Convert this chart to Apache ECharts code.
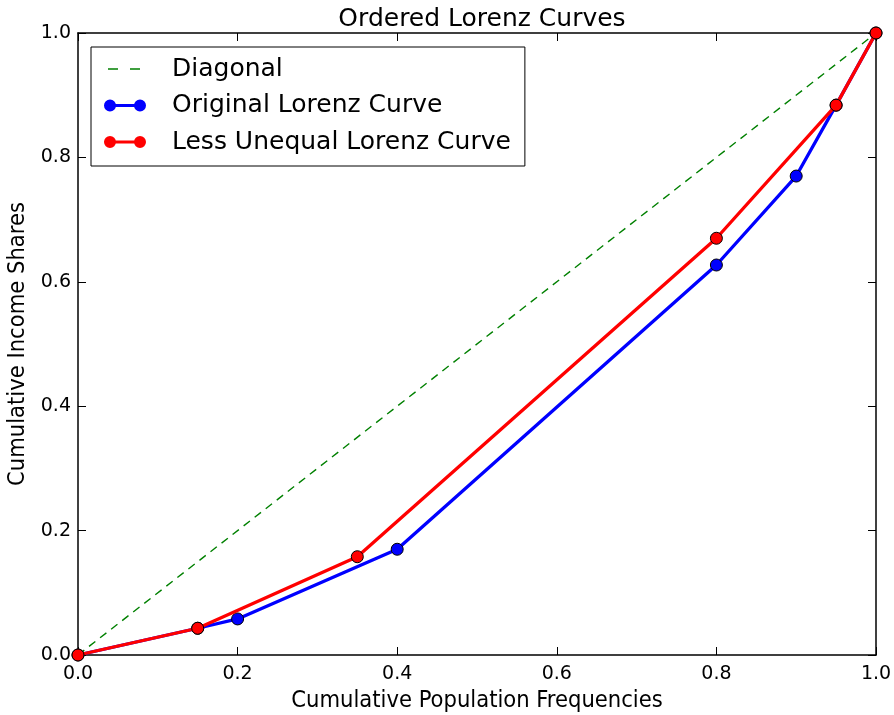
<!DOCTYPE html>
<html>
<head>
<meta charset="utf-8">
<script src="https://cdn.jsdelivr.net/npm/echarts@6/dist/echarts.min.js"></script>
<style>
  html, body { margin: 0; padding: 0; background: #fff; }
  #chart { width: 894px; height: 715px; }
</style>
</head>
<body>
<div id="chart"></div>
<script>
const diagonalX = [0, 1];
const diagonalY = [0, 1];

const originalX = [0, 0.15, 0.2, 0.4, 0.8, 0.9, 0.95, 1];
const originalY = [0, 0.043, 0.058, 0.17, 0.627, 0.77, 0.884, 1];

const lessUnequalX = [0, 0.15, 0.35, 0.8, 0.95, 1];
const lessUnequalY = [0, 0.043, 0.158, 0.67, 0.884, 1];

const tickLabel = (value) => value.toFixed(1);
const font = "DejaVu Sans";
const condensed = "DejaVu Sans Condensed";

const pairs = (xs, ys) => xs.map((x, i) => [x, ys[i]]);

// legend icons drawn like matplotlib's: marker at both ends, or two dashes
const markerIcon =
  "path://M0,0 M42,12 M0,6 A6,6 0 1,1 12,6 A6,6 0 1,1 0,6 Z " +
  "M11,4.5 L31,4.5 L31,7.5 L11,7.5 Z M30,6 A6,6 0 1,1 42,6 A6,6 0 1,1 30,6 Z";
const dashIcon =
  "path://M0,0 M42,12 M4,5.3 L14,5.3 L14,6.7 L4,6.7 Z M26,5.3 L36,5.3 L36,6.7 L26,6.7 Z";

const chart = echarts.init(document.getElementById("chart"), undefined, { renderer: "canvas" });

const frameAxis = {
  min: 0,
  max: 1,
  interval: 0.2,
  type: "value",
  axisLine: { show: true, onZero: false, lineStyle: { color: "#000", width: 1.5 } },
  axisTick: { show: true, inside: true, length: 8, lineStyle: { color: "#000", width: 1 } },
  splitLine: { show: false },
};

chart.setOption({
  animation: false,
  backgroundColor: "#fff",
  title: {
    text: "Ordered Lorenz Curves",
    left: 477,
    top: 2,
    textAlign: "center",
    textStyle: { fontFamily: font, fontSize: 25, fontWeight: "normal", color: "#000" },
  },
  grid: { left: 78, right: 18, top: 33, bottom: 60, outerBoundsMode: "none" },
  legend: {
    orient: "vertical",
    left: 91,
    top: 47,
    padding: [8, 14, 10, 13],
    backgroundColor: "#fff",
    borderColor: "#000",
    borderWidth: 1,
    borderRadius: 0,
    itemWidth: 42,
    itemHeight: 12,
    itemGap: 8.5,
    itemStyle: { borderWidth: 0 },
    textStyle: {
      fontFamily: font,
      fontSize: 25,
      lineHeight: 28,
      color: "#000",
      padding: [0, 0, 0, 21],
    },
    data: [
      { name: "Diagonal", icon: dashIcon },
      { name: "Original Lorenz Curve", icon: markerIcon },
      { name: "Less Unequal Lorenz Curve", icon: markerIcon },
    ],
  },
  xAxis: [
    {
      ...frameAxis,
      position: "bottom",
      name: "Cumulative Population Frequencies",
      nameLocation: "middle",
      nameGap: 31,
      nameTextStyle: { fontFamily: condensed, fontSize: 23.5, color: "#000" },
      axisLabel: { formatter: tickLabel, margin: 10, fontFamily: font, fontSize: 19, color: "#000" },
    },
    { ...frameAxis, position: "top", axisLabel: { show: false } },
  ],
  yAxis: [
    {
      ...frameAxis,
      position: "left",
      name: "Cumulative Income Shares",
      nameLocation: "middle",
      nameGap: 48,
      nameTextStyle: { fontFamily: condensed, fontSize: 23.5, color: "#000" },
      axisLabel: { formatter: tickLabel, margin: 7, fontFamily: font, fontSize: 19, color: "#000" },
    },
    { ...frameAxis, position: "right", axisLabel: { show: false } },
  ],
  series: [
    {
      name: "Diagonal",
      type: "line",
      data: pairs(diagonalX, diagonalY),
      symbol: "none",
      lineStyle: { color: "#008000", width: 1.4, type: [8, 6] },
      itemStyle: { color: "#008000" },
      z: 2,
    },
    {
      name: "Original Lorenz Curve",
      type: "line",
      data: pairs(originalX, originalY),
      symbol: "circle",
      symbolSize: 12,
      lineStyle: { color: "#0000ff", width: 3.3 },
      itemStyle: { color: "#0000ff", borderColor: "#000", borderWidth: 1 },
      z: 3,
    },
    {
      name: "Less Unequal Lorenz Curve",
      type: "line",
      data: pairs(lessUnequalX, lessUnequalY),
      symbol: "circle",
      symbolSize: 12,
      lineStyle: { color: "#ff0000", width: 3.3 },
      itemStyle: { color: "#ff0000", borderColor: "#000", borderWidth: 1 },
      z: 4,
    },
  ],
});
</script>
</body>
</html>
